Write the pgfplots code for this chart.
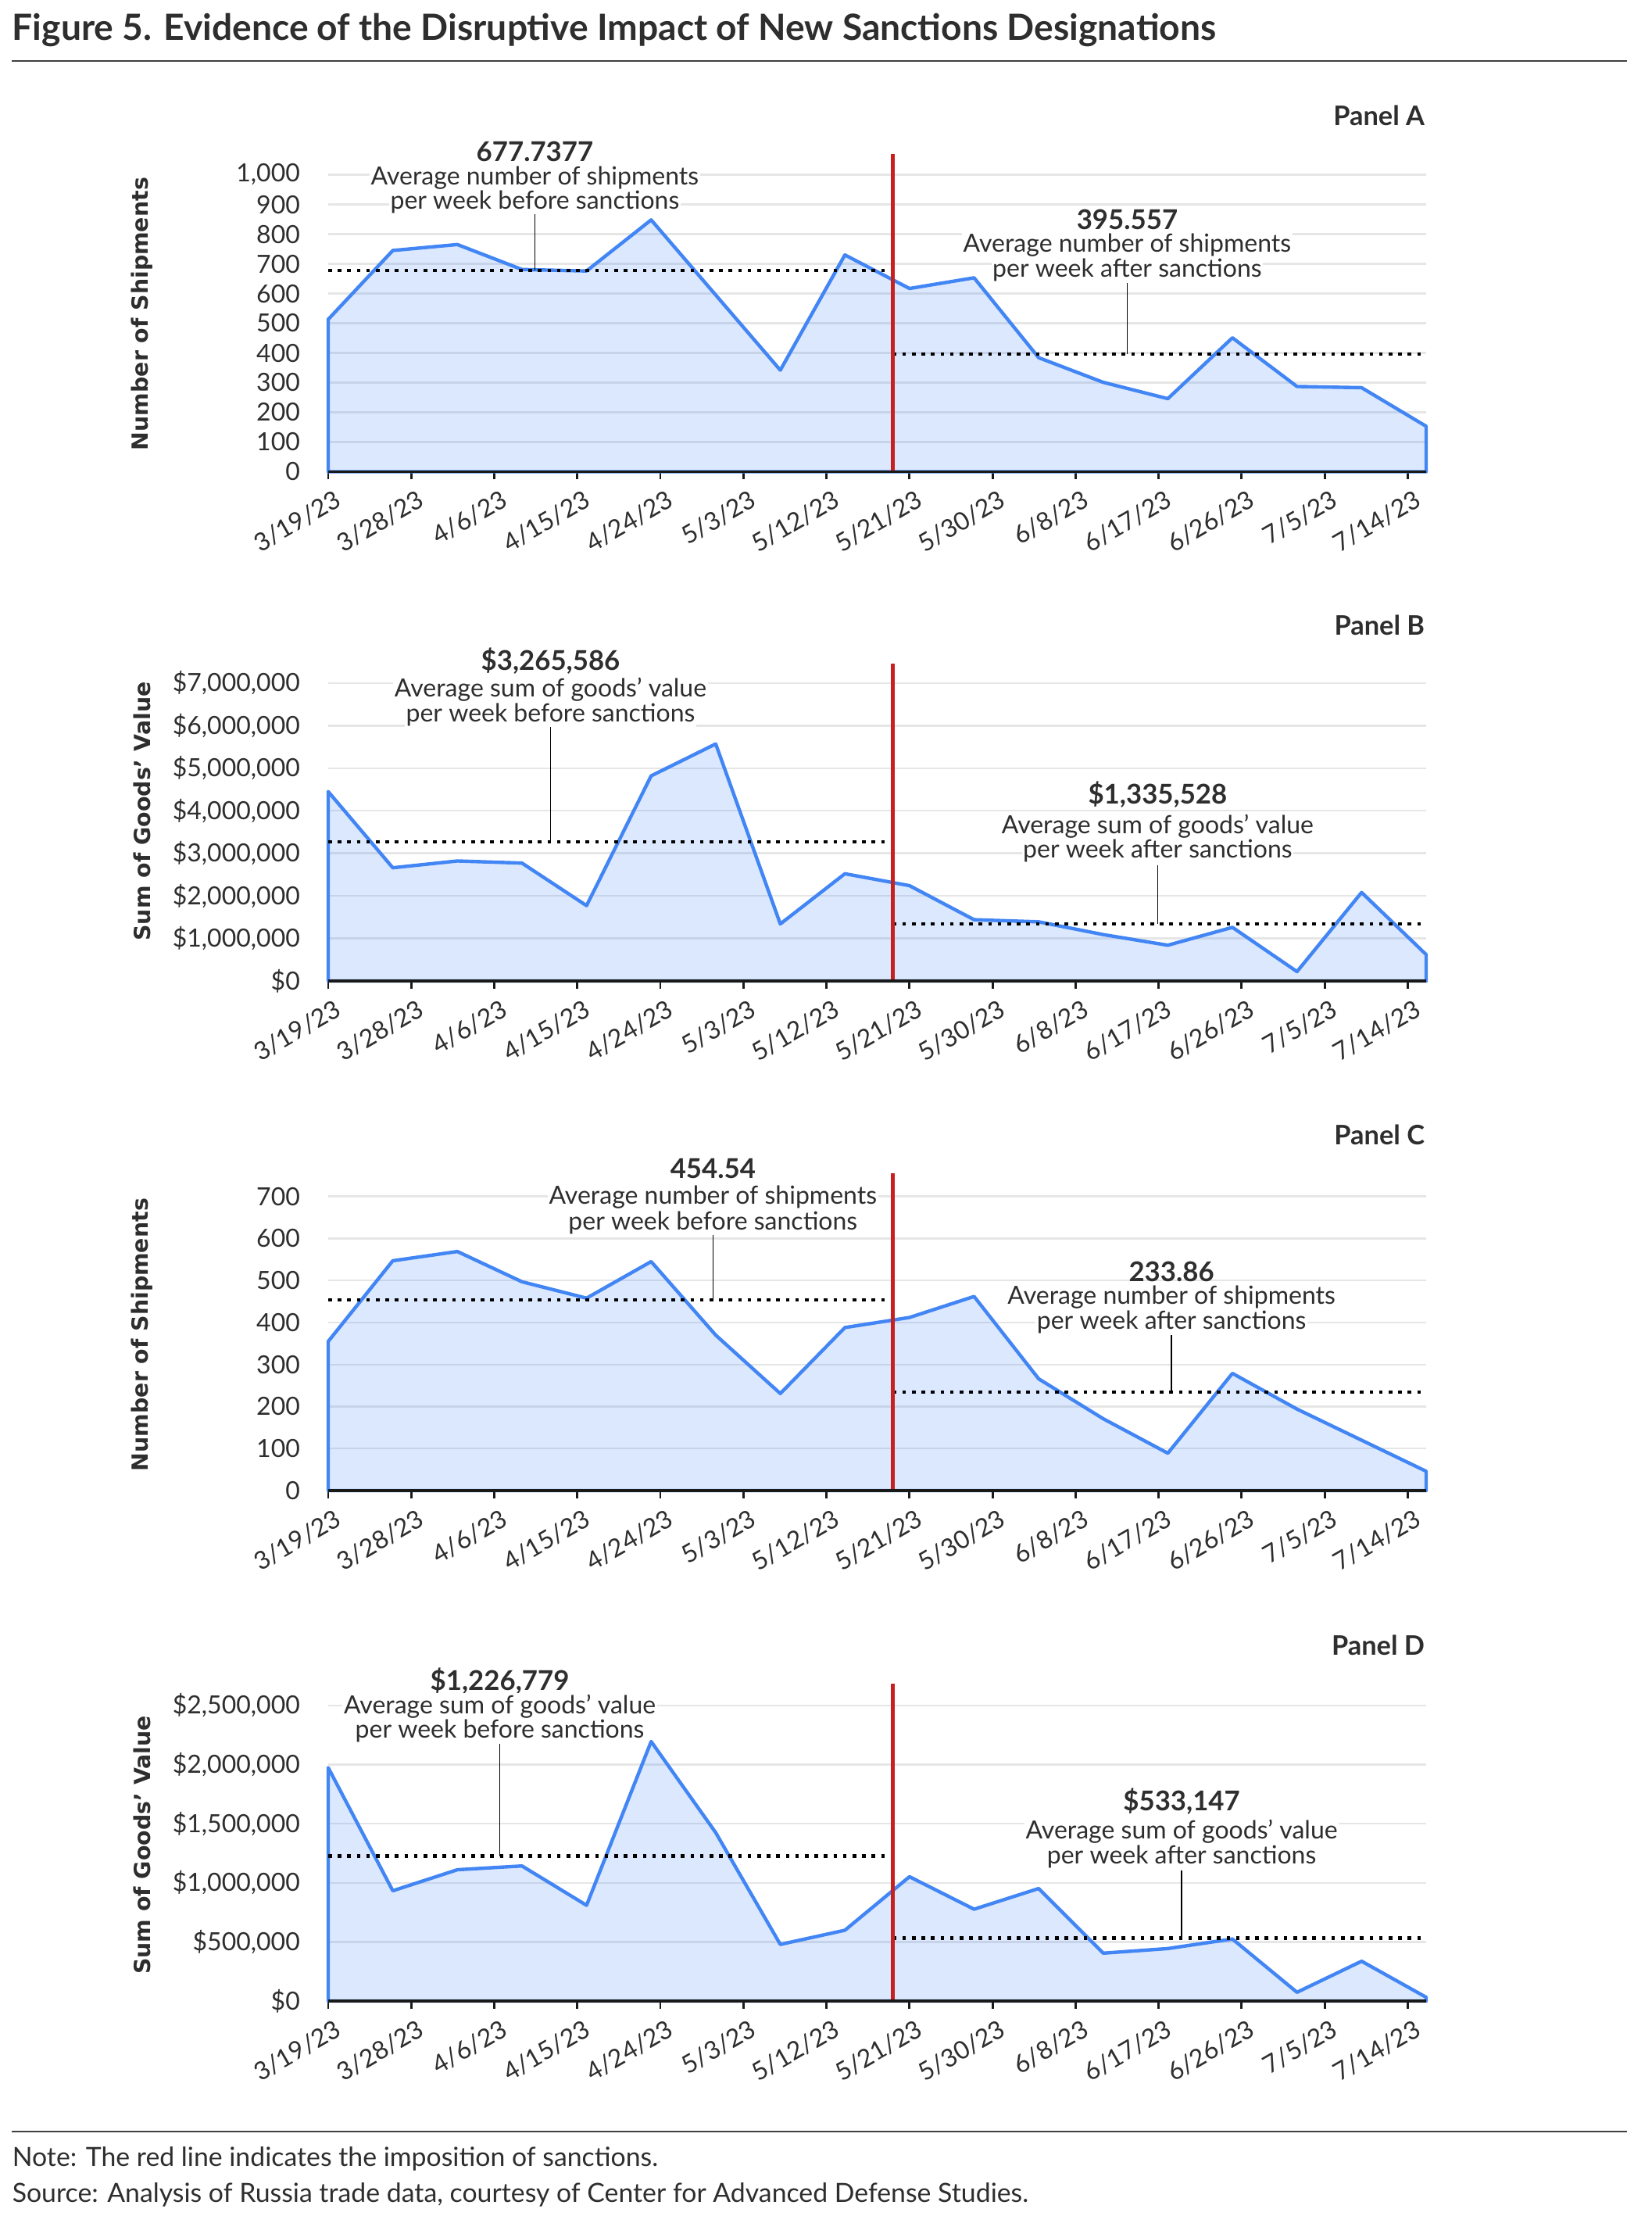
\documentclass[border=0pt]{standalone}
\usepackage{pgfplots}
\pgfplotsset{compat=1.18}
\usepackage{fontspec}
\setmainfont{Lato}
\newfontfamily\ylabfont{DejaVu Sans}
\definecolor{serblue}{HTML}{4285F4}
\definecolor{sanred}{HTML}{C8201E}
\definecolor{gridgray}{HTML}{E6E6E6}
\definecolor{txt}{HTML}{2E2E2E}
\newcommand{\tk}{\fontsize{8}{9}\selectfont}
\newcommand{\an}{\fontsize{8}{9}\selectfont}
\newcommand{\av}{\fontsize{8.7}{10}\selectfont\bfseries}
\tikzset{
  redl/.style={sanred, line width=1.2pt},
  lead/.style={black, line width=0.4pt},
  ann/.style={font=\an, text=txt, fill=white, inner sep=0.4pt},
  val/.style={font=\av, text=txt, inner sep=0.4pt},
  base/.style={black!90, line width=0.9pt},
  plab/.style={anchor=east, font=\fontsize{8.6}{10}\selectfont\bfseries, text=txt},
}
\begin{document}
\begin{tikzpicture}
\path[use as bounding box] (0,0) rectangle (528.25pt,-711pt);
\pgfplotsset{
  panel/.style={
    scale only axis, width=351.25pt, height=101.6pt,
    anchor=south west, xmin=0, xmax=119, ymin=0,
    axis lines*=left,
    y axis line style={draw=none},
    x axis line style={black!90, line width=0.9pt},
    xtick={0,9,...,117},
    xticklabels={3/19/23,3/28/23,4/6/23,4/15/23,4/24/23,5/3/23,5/12/23,5/21/23,5/30/23,6/8/23,6/17/23,6/26/23,7/5/23,7/14/23},
    xticklabel style={rotate=30, anchor=north east, font=\tk, text=txt, xshift=3.5pt},
    yticklabel style={font=\tk, text=txt, xshift=-3pt},
    tick align=outside, major tick length=2.5pt,
    xtick style={black!90, line width=0.7pt},
    ytick style={draw=none},
    ymajorgrids, grid style={gridgray, line width=0.6pt},
    clip=false,
    scaled y ticks=false,
  },
  area/.style={draw=serblue, line width=1.1pt, fill=serblue, fill opacity=0.19, line join=round},
  avg/.style={black, line width=1.05pt, dash pattern=on 1.15pt off 1.9pt},
}
% title
\node[anchor=west, font=\fontsize{11.55}{13}\selectfont\bfseries, text=txt, inner sep=0pt] at (3.75pt,-9.6pt) {Figure 5. Evidence of the Disruptive Impact of New Sanctions Designations};
\draw[line width=0.55pt, black!75] (3.75pt,-19.5pt) -- (520.5pt,-19.5pt);

% ---------------- Panel A
\node[plab] at (459.3pt,-37pt) {Panel A};
\begin{axis}[panel, at={(105pt,-150.875pt)}, ymax=1069.7,
  ytick={0,100,...,1000},
  yticklabels={0,100,200,300,400,500,600,700,800,900,{1,000}}]
\addplot[area] coordinates {(0,513)(7,745)(14,765)(21,681)(28,676)(35,848)(42,595)(49,342)(56,730)(63,617)(70,653)(77,384)(84,301)(91,246)(98,451)(105,287)(112,283)(119,153)} \closedcycle;
\addplot[avg] coordinates {(0,677.7377)(61.2,677.7377)};
\addplot[avg] coordinates {(61.2,395.557)(119,395.557)};
\draw[redl] (axis cs:61.2,0) -- (axis cs:61.2,1069.7);
\draw[base] (axis cs:0,0) -- (axis cs:119,0);
\draw[lead] (axis cs:22.4,880) -- (axis cs:22.4,677.74);
\draw[lead] (axis cs:86.6,638) -- (axis cs:86.6,395.56);
\node[val] at (axis cs:22.4,1077.6) {677.7377};
\node[ann] at (axis cs:22.4,988) {Average number of shipments};
\node[ann] at (axis cs:22.4,909) {per week before sanctions};
\node[val] at (axis cs:86.6,850) {395.557};
\node[ann] at (axis cs:86.6,762) {Average number of shipments};
\node[ann] at (axis cs:86.6,679) {per week after sanctions};
\end{axis}
\node[rotate=90, font=\fontsize{7.1}{8}\selectfont\ylabfont\bfseries, text=txt] at (45.5pt,-100.4pt) {Number of Shipments};

% ---------------- Panel B
\node[plab] at (459.3pt,-200pt) {Panel B};
\begin{axis}[panel, at={(105pt,-313.75pt)}, ymax=7465000,
  ytick={0,1000000,2000000,3000000,4000000,5000000,6000000,7000000},
  yticklabels={{\$0},{\$1,000,000},{\$2,000,000},{\$3,000,000},{\$4,000,000},{\$5,000,000},{\$6,000,000},{\$7,000,000}}]
\addplot[area] coordinates {(0,4450000)(7,2660000)(14,2820000)(21,2770000)(28,1770000)(35,4820000)(42,5570000)(49,1340000)(56,2520000)(63,2240000)(70,1440000)(77,1390000)(84,1090000)(91,840000)(98,1260000)(105,220000)(112,2080000)(119,620000)} \closedcycle;
\addplot[avg] coordinates {(0,3265586)(61.2,3265586)};
\addplot[avg] coordinates {(61.2,1335528)(119,1335528)};
\draw[redl] (axis cs:61.2,0) -- (axis cs:61.2,7465000);
\draw[base] (axis cs:0,0) -- (axis cs:119,0);
\draw[lead] (axis cs:24.1,5990000) -- (axis cs:24.1,3265586);
\draw[lead] (axis cs:89.9,2720000) -- (axis cs:89.9,1335528);
\node[val] at (axis cs:24.1,7520000) {\$3,265,586};
\node[ann] at (axis cs:24.1,6840000) {Average sum of goods’ value};
\node[ann] at (axis cs:24.1,6260000) {per week before sanctions};
\node[val] at (axis cs:89.9,4380000) {\$1,335,528};
\node[ann] at (axis cs:89.9,3630000) {Average sum of goods’ value};
\node[ann] at (axis cs:89.9,3050000) {per week after sanctions};
\end{axis}
\node[rotate=90, font=\fontsize{7.1}{8}\selectfont\ylabfont\bfseries, text=txt] at (45.5pt,-259.5pt) {Sum of Goods’ Value};

% ---------------- Panel C
\node[plab] at (459.3pt,-363pt) {Panel C};
\begin{axis}[panel, at={(105pt,-476.75pt)}, ymax=756,
  ytick={0,100,...,700},
  yticklabels={0,100,200,300,400,500,600,700}]
\addplot[area] coordinates {(0,355)(7,547)(14,569)(21,497)(28,458)(35,545)(42,370)(49,231)(56,388)(63,412)(70,462)(77,266)(84,171)(91,89)(98,279)(105,194)(112,120)(119,46)} \closedcycle;
\addplot[avg] coordinates {(0,454.54)(61.2,454.54)};
\addplot[avg] coordinates {(61.2,233.86)(119,233.86)};
\draw[redl] (axis cs:61.2,0) -- (axis cs:61.2,756);
\draw[base] (axis cs:0,0) -- (axis cs:119,0);
\draw[lead] (axis cs:41.7,612) -- (axis cs:41.7,454.54);
\draw[lead] (axis cs:91.4,373) -- (axis cs:91.4,233.86);
\node[val] at (axis cs:41.7,766) {454.54};
\node[ann] at (axis cs:41.7,698.5) {Average number of shipments};
\node[ann] at (axis cs:41.7,638) {per week before sanctions};
\node[val] at (axis cs:91.4,521) {233.86};
\node[ann] at (axis cs:91.4,460) {Average number of shipments};
\node[ann] at (axis cs:91.4,400.6) {per week after sanctions};
\end{axis}
\node[rotate=90, font=\fontsize{7.1}{8}\selectfont\ylabfont\bfseries, text=txt] at (45.5pt,-426.9pt) {Number of Shipments};

% ---------------- Panel D
\node[plab] at (459.3pt,-526.1pt) {Panel D};
\begin{axis}[panel, at={(105pt,-640pt)}, ymax=2688000,
  ytick={0,500000,1000000,1500000,2000000,2500000},
  yticklabels={{\$0},{\$500,000},{\$1,000,000},{\$1,500,000},{\$2,000,000},{\$2,500,000}}]
\addplot[area] coordinates {(0,1975000)(7,933000)(14,1111000)(21,1143000)(28,810000)(35,2196000)(42,1425000)(49,479000)(56,599000)(63,1052000)(70,777000)(77,952000)(84,405000)(91,444000)(98,525000)(105,74000)(112,337000)(119,32000)} \closedcycle;
\addplot[avg] coordinates {(0,1226779)(61.2,1226779)};
\addplot[avg] coordinates {(61.2,533147)(119,533147)};
\draw[redl] (axis cs:61.2,0) -- (axis cs:61.2,2688000);
\draw[base] (axis cs:0,0) -- (axis cs:119,0);
\draw[lead] (axis cs:18.6,2186000) -- (axis cs:18.6,1226779);
\draw[lead] (axis cs:92.5,1102000) -- (axis cs:92.5,533147);
\node[val] at (axis cs:18.6,2710000) {\$1,226,779};
\node[ann] at (axis cs:18.6,2495000) {Average sum of goods’ value};
\node[ann] at (axis cs:18.6,2284000) {per week before sanctions};
\node[val] at (axis cs:92.5,1691000) {\$533,147};
\node[ann] at (axis cs:92.5,1432000) {Average sum of goods’ value};
\node[ann] at (axis cs:92.5,1222000) {per week after sanctions};
\end{axis}
\node[rotate=90, font=\fontsize{7.1}{8}\selectfont\ylabfont\bfseries, text=txt] at (45.5pt,-590.1pt) {Sum of Goods’ Value};

% notes
\draw[line width=0.55pt, black!75] (3.75pt,-681.75pt) -- (520.5pt,-681.75pt);
\node[anchor=west, font=\fontsize{8.45}{10}\selectfont, text=txt, inner sep=0pt] at (3.75pt,-690.5pt) {Note: The red line indicates the imposition of sanctions.};
\node[anchor=west, font=\fontsize{8.45}{10}\selectfont, text=txt, inner sep=0pt] at (3.75pt,-702pt) {Source: Analysis of Russia trade data, courtesy of Center for Advanced Defense Studies.};
\end{tikzpicture}
\end{document}
